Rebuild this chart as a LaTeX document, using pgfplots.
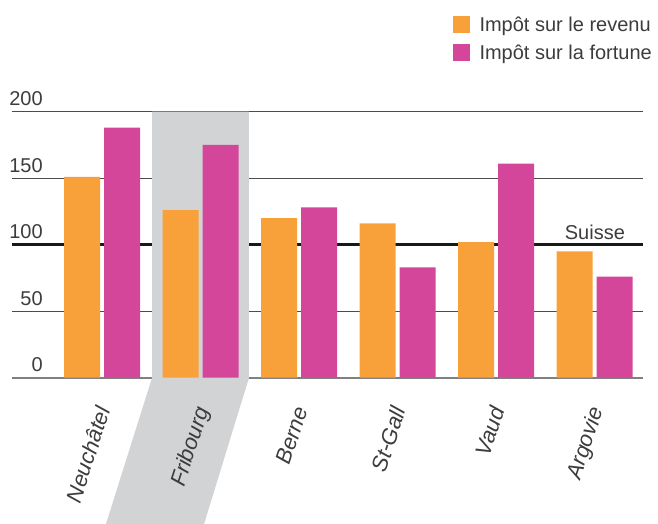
\documentclass[border=0pt]{standalone}
\usepackage{pgfplots}
\pgfplotsset{compat=1.18}
\usepackage{fontspec}
\setmainfont{Liberation Sans}
\definecolor{revenu}{HTML}{F8A13B}
\definecolor{fortune}{HTML}{D4469A}
\definecolor{band}{HTML}{D1D3D4}
\definecolor{txt}{HTML}{3C3C3C}
\newcommand{\lab}{\fontsize{20}{24}\selectfont}
\tikzset{cat/.style={rotate=72, anchor=base east, inner sep=0pt,
    font=\fontsize{22}{26}\selectfont\itshape, text=txt}}

\begin{document}
\begin{tikzpicture}
\useasboundingbox (0pt,0pt) rectangle (658pt,524pt);
\begin{axis}[
  at={(12pt,146.3pt)}, anchor=south west,
  scale only axis, width=631pt, height=266pt,
  xmin=-0.914, xmax=5.492, ymin=0, ymax=200,
  ybar=4pt, bar width=36pt,
  clip=false,
  axis x line*=bottom, axis y line*=left,
  x axis line style={draw=gray, line width=1.7pt, -},
  y axis line style={draw=none},
  ytick={50,150,200}, yticklabels={,,}, ytick style={draw=none},
  ymajorgrids, grid style={draw=black!70, line width=1pt},
  extra y ticks={100}, extra y tick labels={},
  extra y tick style={grid style={draw=black!90, line width=2.7pt}},
  xtick={0,...,5}, xtick style={draw=none}, xticklabels={},
  legend style={at={(1.0143,1.361)}, anchor=north east, draw=none,
    fill=none, inner sep=0pt, font=\lab, text=txt,
    nodes={inner sep=0pt, text height=15pt, text depth=5pt},
    row sep=7pt, column sep=10pt},
  legend cell align=left,
]
% gray highlight behind Fribourg
\fill[band] (axis cs:0.508,200) -- (axis cs:1.492,200) -- (axis cs:1.492,0)
  -- (axis cs:1.036,-110) -- (axis cs:0.04,-110) -- (axis cs:0.508,0) -- cycle;

\addplot[fill=revenu, draw=none,
  legend image code/.code={\fill[revenu] (0pt,-6pt) rectangle (17pt,11pt);}]
  coordinates {(0,151) (1,126) (2,120) (3,116) (4,102) (5,95)};
\addplot[fill=fortune, draw=none,
  legend image code/.code={\fill[fortune] (0pt,-6pt) rectangle (17pt,11pt);}]
  coordinates {(0,188) (1,175) (2,128) (3,83) (4,161) (5,76)};
\legend{Impôt sur le revenu, Impôt sur la fortune}

% category names (drawn after the band so they stay on top)
\node[cat] at (axis cs:0.09,-24) {Neuchâtel};
\node[cat] at (axis cs:1.09,-24) {Fribourg};
\node[cat] at (axis cs:2.09,-24) {Berne};
\node[cat] at (axis cs:3.09,-24) {St-Gall};
\node[cat] at (axis cs:4.09,-24) {Vaud};
\node[cat] at (axis cs:5.09,-24) {Argovie};

\node[anchor=base east, font=\lab, text=txt, inner sep=0pt] at (axis cs:-0.6,204.5) {200};
\node[anchor=base east, font=\lab, text=txt, inner sep=0pt] at (axis cs:-0.6,154.5) {150};
\node[anchor=base east, font=\lab, text=txt, inner sep=0pt] at (axis cs:-0.6,104.5) {100};
\node[anchor=base east, font=\lab, text=txt, inner sep=0pt] at (axis cs:-0.6,54.5) {50};
\node[anchor=base east, font=\lab, text=txt, inner sep=0pt] at (axis cs:-0.6,4.5) {0};
\node[anchor=base east, font=\lab, text=txt, inner sep=0pt] at (axis cs:5.31,104) {Suisse};
\end{axis}
\end{tikzpicture}
\end{document}
